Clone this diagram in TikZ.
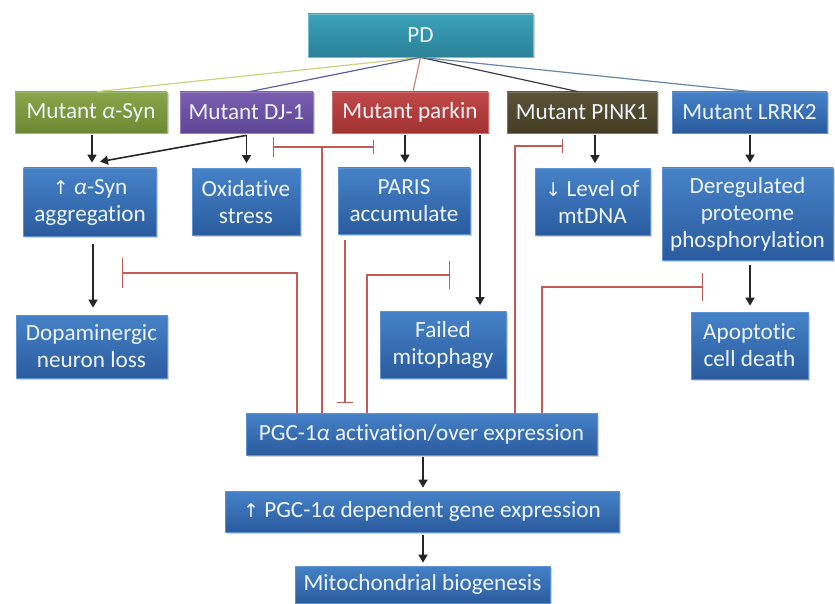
\documentclass[tikz,border=0pt]{standalone}
\usepackage{fontspec}
\setmainfont{Carlito}[Ligatures={NoCommon,NoRare}]
\newfontfamily\symf{DejaVu Sans}
\usetikzlibrary{arrows.meta,calc,shadows}
\definecolor{txt}{HTML}{EEF4FB}
\definecolor{bluetop}{HTML}{4682C8}
\definecolor{bluebot}{HTML}{2A5B9E}
\definecolor{blueedge}{HTML}{5E92D2}
\definecolor{pdtop}{HTML}{3AA2BA}
\definecolor{pdbot}{HTML}{2A8197}
\definecolor{greentop}{HTML}{8AA64A}
\definecolor{greenbot}{HTML}{6C8832}
\definecolor{purptop}{HTML}{7B5EB0}
\definecolor{purpbot}{HTML}{5E4596}
\definecolor{redtop}{HTML}{C24848}
\definecolor{redbot}{HTML}{A03232}
\definecolor{olivetop}{HTML}{5C5438}
\definecolor{olivebot}{HTML}{443D24}
\definecolor{inhred}{HTML}{C45A55}
\definecolor{lsyn}{HTML}{C9D27E}
\definecolor{ldj}{HTML}{5B5EA6}
\definecolor{lpark}{HTML}{C0877A}
\definecolor{lpink}{HTML}{3C3C44}
\definecolor{llrrk}{HTML}{6684A6}
\begin{document}
\begin{tikzpicture}[x=1pt,y=-1pt,
  base/.style={rectangle, inner sep=0pt, align=center, text=txt,
    font=\fontsize{23.2}{27}\selectfont, line width=0.7pt,
    drop shadow={shadow xshift=1.5pt, shadow yshift=-1.5pt, opacity=0.35}},
  bluebox/.style={base, top color=bluetop, bottom color=bluebot, draw=blueedge},
  pdbox/.style={base, top color=pdtop, bottom color=pdbot, draw=pdtop!70!white},
  greenbox/.style={base, top color=greentop, bottom color=greenbot, draw=greentop!80!white},
  purpbox/.style={base, top color=purptop, bottom color=purpbot, draw=purptop!80!white},
  redbox/.style={base, top color=redtop, bottom color=redbot, draw=redtop!80!white},
  olivebox/.style={base, top color=olivetop, bottom color=olivebot, draw=olivetop!80!white},
  sz/.style 2 args={minimum width=#1pt, minimum height=#2pt},
  arr/.style={line width=1.6pt, black!85, -{Triangle[length=8pt,width=9pt]}},
  inh/.style={line width=1.4pt, inhred},
  pdline/.style={line width=1.2pt}
]
\path[use as bounding box] (0,0) rectangle (835,604);

% nodes
\node[pdbox, sz={225}{43}] (pd) at (420.5,35.5) {PD};
\node[greenbox, sz={152}{41}] (syn) at (91,112.5) {Mutant \textit{α}-Syn};
\node[purpbox, sz={133}{41}] (dj) at (246.5,112.5) {Mutant DJ-1};
\node[redbox, sz={156}{41}] (park) at (410,112.5) {Mutant parkin};
\node[olivebox, sz={150}{41}] (pink) at (582,112.5) {Mutant PINK1};
\node[bluebox, sz={155}{41}] (lrrk) at (749.5,112.5) {Mutant LRRK2};

\node[bluebox, sz={133}{68}] (agg) at (90,202) {{\symf\fontsize{19}{27}\selectfont ↑} \textit{α}-Syn\\aggregation};
\node[bluebox, sz={108}{67}] (ox) at (246,202) {Oxidative\\stress};
\node[bluebox, sz={132}{66}] (paris) at (404,201) {PARIS\\accumulate};
\node[bluebox, sz={115}{67}] (mt) at (592.5,202) {{\symf\fontsize{19}{27}\selectfont ↓} Level of\\mtDNA};
\node[bluebox, sz={171}{92}] (dereg) at (747.5,214) {Deregulated\\proteome\\phosphorylation};

\node[bluebox, sz={151}{63}] (dopa) at (91.5,346.5) {Dopaminergic\\neuron loss};
\node[bluebox, sz={126}{67}] (fail) at (443,345) {Failed\\mitophagy};
\node[bluebox, sz={117}{67}] (apo) at (749.5,345.5) {Apoptotic\\cell death};

\node[bluebox, sz={351}{42}] (pgc) at (421.5,434) {PGC-1\textit{α} activation/over expression};
\node[bluebox, sz={394}{41}] (gene) at (422,511.5) {{\symf\fontsize{19}{27}\selectfont ↑} PGC-1\textit{α} dependent gene expression};
\node[bluebox, sz={255}{37}] (mito) at (422.5,584.5) {Mitochondrial biogenesis};

% PD lines
\draw[pdline, lsyn] (pd.south) -- ($(syn.north)+(6,0)$);
\draw[pdline, ldj] (pd.south) -- ($(dj.north)+(3,0)$);
\draw[pdline, lpark] (pd.south) -- ($(park.north)+(3,0)$);
\draw[pdline, lpink] (pd.south) -- ($(pink.north)+(-4,0)$);
\draw[pdline, llrrk] (pd.south) -- ($(lrrk.north)+(2,0)$);

% black arrows
\draw[arr] ($(syn.south)+(1,2)$) -- ($(agg.north)+(2,-5)$);
\draw[arr] ($(dj.south)+(0,2)$) -- ($(agg.north)+(10,-6)$);
\draw[arr] ($(dj.south)+(0,2)$) -- ($(ox.north)+(0.5,-5)$);
\draw[arr] ($(paris.north |- park.south)+(1,2)$) -- ($(paris.north)+(1,-5)$);
\draw[arr] ($(fail.north |- park.south)+(37,2)$) -- ($(fail.north)+(37,-6)$);
\draw[arr] ($(mt.north |- pink.south)+(2.5,2)$) -- ($(mt.north)+(2.5,-5)$);
\draw[arr] ($(dereg.north |- lrrk.south)+(2.5,2)$) -- ($(dereg.north)+(2.5,-5)$);
\draw[arr] ($(agg.south)+(3,8)$) -- ($(agg.south |- dopa.north)+(3,-7)$);
\draw[arr] ($(dereg.south)+(2.5,5)$) -- ($(dereg.south |- apo.north)+(2.5,-6)$);
\draw[arr] ($(pgc.south)+(1.5,2)$) -- ($(pgc.south |- gene.north)+(1.5,-3)$);
\draw[arr] ($(gene.south)+(1,3)$) -- ($(gene.south |- mito.north)+(1,-3)$);

% inhibition lines
\coordinate (i1) at (322,147);
\coordinate (i1L) at (273,147);
\coordinate (i1R) at (374,147);
\draw[inh] (pgc.north -| i1) -- (i1);
\draw[inh, {Bar[width=20pt]}-{Bar[width=14pt]}] (i1L) -- (i1R);

\coordinate (c2) at (297,273);
\coordinate (i2) at (122,273);
\draw[inh, -{Bar[width=30pt]}] (pgc.north -| c2) -- (c2) -- (i2);

\coordinate (i3) at (345,403);
\draw[inh, -{Bar[width=16pt]}] ($(paris.south -| i3)+(0,6)$) -- (i3);

\coordinate (c4) at (367,275);
\coordinate (i4) at (450,275);
\draw[inh, -{Bar[width=28pt]}] (pgc.north -| c4) -- (c4) -- (i4);

\coordinate (c5) at (515,146);
\coordinate (i5) at (563,146);
\draw[inh, -{Bar[width=14pt]}] (pgc.north -| c5) -- (c5) -- (i5);

\coordinate (c6) at (542,287);
\coordinate (i6) at (703,287);
\draw[inh, -{Bar[width=28pt]}] (pgc.north -| c6) -- (c6) -- (i6);
\end{tikzpicture}
\end{document}
